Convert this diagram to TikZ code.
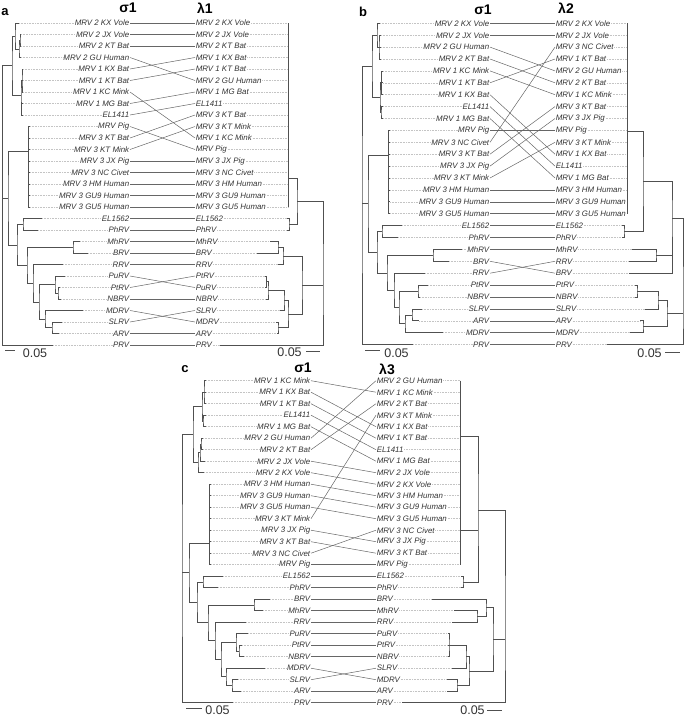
\documentclass[tikz,border=0pt]{standalone}
\usepackage{fontspec}
\setmainfont{Liberation Sans}
\definecolor{branchgray}{HTML}{505050}
\definecolor{leadgray}{HTML}{C4C4C4}
\definecolor{labgray}{HTML}{333333}
\tikzset{branch/.style={draw=branchgray,line width=0.7pt},
 leader/.style={draw=leadgray,line width=0.6pt,densely dotted},
 link/.style={draw=gray!80!black,line width=0.5pt},
 leaf/.style={font=\fontsize{7.9}{8}\selectfont\itshape,text=labgray,inner sep=0.6pt},
 lleaf/.style={leaf,anchor=east},
 rleaf/.style={leaf,anchor=west},
 ttl/.style={font=\fontsize{14}{14}\selectfont\bfseries,inner sep=0pt},
 panel/.style={font=\fontsize{13}{13}\selectfont\bfseries,inner sep=0pt},
 scl/.style={font=\fontsize{12.5}{12.5}\selectfont,text=labgray,inner sep=0pt},
 }

\begin{document}
\begin{tikzpicture}[x=1pt,y=-1pt]
\useasboundingbox (0,0) rectangle (685,716);

% panel a
\node[panel] (pa) at (5,12) {a};
\node[ttl] (aSig) at (128,8) {σ1};
\node[ttl] (aLam) at (205,8) {λ1};
\begin{scope}[yshift=-11.5pt,y=-11.5pt]
    \foreach \x/\t [count=\i] in {19/MRV 2 KX Vole, 21/MRV 2 JX Vole, 21/MRV 2 KT Bat, 21/MRV 2 GU Human, 23/MRV 1 KX Bat, 23/MRV 1 KT Bat, 23/MRV 1 KC Mink, 23/MRV 1 MG Bat, 23/EL1411, 30/MRV Pig, 30/MRV 3 KT Bat, 30/MRV 3 KT Mink, 30/MRV 3 JX Pig, 30/MRV 3 NC Civet, 30/MRV 3 HM Human, 30/MRV 3 GU9 Human, 30/MRV 3 GU5 Human, 42/EL1562, 38/PhRV, 80/MhRV, 88/BRV, 63/RRV, 65/PuRV, 60/PtRV, 61/NBRV, 83/MDRV, 62/SLRV, 59/ARV, 53/PRV} {
        \node[lleaf] (aL\i) at (130,\i) {\t};
        \draw[leader] (\x,\i) -- (aL\i.west);
    }
    \foreach \x/\t [count=\i] in {288/MRV 2 KX Vole, 288/MRV 2 JX Vole, 288/MRV 2 KT Bat, 288/MRV 1 KX Bat, 288/MRV 1 KT Bat, 288/MRV 2 GU Human, 288/MRV 1 MG Bat, 288/EL1411, 288/MRV 3 KT Bat, 288/MRV 3 KT Mink, 288/MRV 1 KC Mink, 288/MRV Pig, 288/MRV 3 JX Pig, 288/MRV 3 NC Civet, 288/MRV 3 HM Human, 288/MRV 3 GU9 Human, 288/MRV 3 GU5 Human, 287/EL1562, 287/PhRV, 270/MhRV, 257/BRV, 278/RRV, 265/PtRV, 265/PuRV, 266/NBRV, 280/SLRV, 276/MDRV, 277/ARV, 220/PRV} {
        \node[rleaf] (aR\i) at (195,\i) {\t};
        \draw[leader] (aR\i.east) -- (\x,\i);
    }
    \foreach \i/\j in {1/1,2/2,3/3,4/6,5/4,6/5,7/11,8/7,9/8,10/12,11/9,12/10,13/13,14/14,15/15,16/16,17/17,18/18,19/19,20/20,21/21,22/22,23/24,24/23,25/25,26/27,27/26,28/28,29/29}
        \draw[link] (aL\i.east) -- (aR\j.west);
    % sigma1 tree
    \draw[branch] (21,2) -| (20,2.5) |- (21,3);
    \draw[branch] (20,2.5) -| (19,3.25) |- (21,4);
    \draw[branch] (19,1) -| (15,2.125) |- (19,3.25);
    \draw[branch] (23,5) -| (22,6) |- (23,7);
    \draw[branch] (22,6) -- (23,6);
    \draw[branch] (23,8) -| (21.5,8.5) |- (23,9);
    \draw[branch] (22,6) -| (21,7.25) |- (21.5,8.5);
    \draw[branch] (15,2.125) -| (12,4.69) |- (21,7.25);
    \draw[branch] (28,10) -- (28,17);
    \foreach \r in {10,...,17} \draw[branch] (28,\r) -- (30,\r);
    \draw[branch] (28,12.2) -| (8,16.25) |- (17,20.3);
    \draw[branch] (23,18.5) -| (17,20.3) |- (27,22.05);
    \draw[branch] (42,18) -| (23,18.5) |- (38,19);
    \draw[branch] (73,20.5) -| (27,22.05) |- (33,23.6);
    \draw[branch] (80,20) -| (73,20.5) |- (88,21);
    \draw[branch] (63,22) -| (33,23.6) |- (39,25.25);
    \draw[branch] (55,23.75) -| (39,25.25) |- (45,26.75);
    \draw[branch] (65,23) -| (55,23.75) |- (58,24.5);
    \draw[branch] (60,24) -| (58,24.5) |- (61,25);
    \draw[branch] (83,26) -| (45,26.75) |- (52,27.5);
    \draw[branch] (62,27) -| (52,27.5) |- (59,28);
    \draw[branch] (12,4.69) -| (2.7,16.25) |- (53,29);
    \draw[branch] (2.7,16.25) -- (8,16.25);
    % lambda1 tree
    \draw[branch] (288,1) -- (288,17);
    \draw[branch] (288,14.5) -| (297,16.5) |- (289,18.5);
    \draw[branch] (287,18) -| (289,18.5) |- (287,19);
    \draw[branch] (297,16.5) -| (323,23.8) |- (220,29);
    \draw[branch] (323,23.8) -- (302,23.8);
    \draw[branch] (283,21.25) -| (302,23.8) |- (288,26.3);
    \draw[branch] (278,20.5) -| (283,21.25) |- (278,22);
    \draw[branch] (270,20) -| (278,20.5) |- (257,21);
    \draw[branch] (284,25.1) -| (288,26.3) |- (278,27.5);
    \draw[branch] (268,24.25) -| (284,25.1) |- (280,26);
    \draw[branch] (266.5,23.5) -| (268,24.25) |- (266,25);
    \draw[branch] (265,23) -| (266.5,23.5) |- (265,24);
    \draw[branch] (276,27) -| (278,27.5) |- (277,28);
\end{scope}
\draw[branch] (5,350) -- (15,350);
\node[scl] (aS1) at (35,353) {0.05};
\draw[branch] (306,351) -- (320,351);
\node[scl] (aS2) at (289.5,352.5) {0.05};

% panel b
\node[panel] (pb) at (363,12) {b};
\node[ttl] (bSig) at (483,10) {σ1};
\node[ttl] (bLam) at (566,8) {λ2};
\begin{scope}[yshift=-11.4pt,y=-11.9pt]
    \foreach \x/\t [count=\i] in {380/MRV 2 KX Vole, 381/MRV 2 JX Vole, 381/MRV 2 GU Human, 381/MRV 2 KT Bat, 383/MRV 1 KC Mink, 383/MRV 1 KT Bat, 383/MRV 1 KX Bat, 383/EL1411, 383/MRV 1 MG Bat, 390/MRV Pig, 390/MRV 3 NC Civet, 390/MRV 3 KT Bat, 390/MRV 3 JX Pig, 390/MRV 3 KT Mink, 390/MRV 3 HM Human, 390/MRV 3 GU9 Human, 390/MRV 3 GU5 Human, 402/EL1562, 398/PhRV, 462/MhRV, 449/BRV, 425/RRV, 428/PtRV, 420/NBRV, 422/SLRV, 419/ARV, 443/MDRV, 413/PRV} {
        \node[lleaf] (bL\i) at (490,\i) {\t};
        \draw[leader] (\x,\i) -- (bL\i.west);
    }
    \foreach \x/\t [count=\i] in {627/MRV 2 KX Vole, 627/MRV 2 JX Vole, 627/MRV 3 NC Civet, 627/MRV 1 KT Bat, 627/MRV 2 GU Human, 627/MRV 2 KT Bat, 627/MRV 1 KC Mink, 627/MRV 3 KT Bat, 627/MRV 3 JX Pig, 627/MRV Pig, 627/MRV 3 KT Mink, 627/MRV 1 KX Bat, 627/EL1411, 627/MRV 1 MG Bat, 627/MRV 3 HM Human, 627/MRV 3 GU9 Human, 627/MRV 3 GU5 Human, 622/EL1562, 622/PhRV, 632/MhRV, 629/RRV, 629/BRV, 635/PtRV, 635/NBRV, 645/SLRV, 640/ARV, 630/MDRV, 607/PRV} {
        \node[rleaf] (bR\i) at (555,\i) {\t};
        \draw[leader] (bR\i.east) -- (\x,\i);
    }
    \foreach \i/\j in {1/1,2/2,3/5,4/6,5/7,6/4,7/12,8/13,9/14,10/10,11/3,12/8,13/9,14/11,15/15,16/16,17/17,18/18,19/19,20/20,21/22,22/21,23/23,24/24,25/25,26/26,27/27,28/28}
        \draw[link] (bL\i.east) -- (bR\j.west);
    % sigma1 tree
    \draw[branch] (381,2) -| (379,3) |- (381,4);
    \draw[branch] (379,3) -- (381,3);
    \draw[branch] (380,1) -| (377,2) |- (379,3);
    \draw[branch] (383,5) -| (381.7,6) |- (383,7);
    \draw[branch] (381.7,6) -- (383,6);
    \draw[branch] (383,8) -| (381,8.5) |- (383,9);
    \draw[branch] (381.7,6) -| (380,7.25) |- (381,8.5);
    \draw[branch] (377,2) -| (372,4.6) |- (380,7.25);
    \draw[branch] (388,10) -- (388,17);
    \foreach \r in {10,...,17} \draw[branch] (388,\r) -- (390,\r);
    \draw[branch] (388,12.1) -| (368,16.17) |- (377,20.24);
    \draw[branch] (382,18.5) -| (377,20.24) |- (387,21.98);
    \draw[branch] (402,18) -| (382,18.5) |- (398,19);
    \draw[branch] (433,20.5) -| (387,21.98) |- (394,23.45);
    \draw[branch] (462,20) -| (433,20.5) |- (449,21);
    \draw[branch] (425,22) -| (394,23.45) |- (399,24.9);
    \draw[branch] (418,23.5) -| (399,24.9) |- (405,26.25);
    \draw[branch] (428,23) -| (418,23.5) |- (420,24);
    \draw[branch] (412,25.5) -| (405,26.25) |- (443,27);
    \draw[branch] (422,25) -| (412,25.5) |- (419,26);
    \draw[branch] (372,4.6) -| (362,16.17) |- (413,28);
    \draw[branch] (362,16.17) -- (368,16.17);
    % lambda2 tree
    \draw[branch] (627,1) -- (627,17);
    \draw[branch] (627,10.1) -| (643,14.3) |- (624,18.5);
    \draw[branch] (622,18) -| (624,18.5) |- (622,19);
    \draw[branch] (643,14.3) -| (672,17.4) |- (656,20.5);
    \draw[branch] (672,20.5) |- (629,22);
    \draw[branch] (632,20) -| (656,20.5) |- (629,21);
    \draw[branch] (672,17.4) -| (683,25.4) |- (607,28);
    \draw[branch] (683,25.4) -- (667,25.4);
    \draw[branch] (658,24.25) -| (667,25.4) |- (643,26.5);
    \draw[branch] (637,23.5) -| (658,24.25) |- (645,25);
    \draw[branch] (635,23) -| (637,23.5) |- (635,24);
    \draw[branch] (640,26) -| (643,26.5) |- (630,27);
\end{scope}
\draw[branch] (365,350) -- (380,350);
\node[scl] (bS1) at (396.5,353) {0.05};
\draw[branch] (665,352.7) -- (680,352.7);
\node[scl] (bS2) at (649.5,352.7) {0.05};

% panel c
\node[panel] (pc) at (185,369) {c};
\node[ttl] (cSig) at (303,368) {σ1};
\node[ttl] (cLam) at (387,369) {λ3};
\begin{scope}[yshift=-369.2pt,y=-11.5pt]
    \foreach \x/\t [count=\i] in {206/MRV 1 KC Mink, 206/MRV 1 KX Bat, 206/MRV 1 KT Bat, 206/EL1411, 206/MRV 1 MG Bat, 203/MRV 2 GU Human, 203/MRV 2 KT Bat, 205/MRV 2 JX Vole, 204/MRV 2 KX Vole, 211/MRV 3 HM Human, 211/MRV 3 GU9 Human, 211/MRV 3 GU5 Human, 211/MRV 3 KT Mink, 211/MRV 3 JX Pig, 211/MRV 3 KT Bat, 211/MRV 3 NC Civet, 211/MRV Pig, 223/EL1562, 218/PhRV, 270/BRV, 263/MhRV, 246/RRV, 248/PuRV, 242/PtRV, 244/NBRV, 265/MDRV, 238/SLRV, 241/ARV, 233/PRV} {
        \node[lleaf] (cL\i) at (311,\i) {\t};
        \draw[leader] (\x,\i) -- (cL\i.west);
    }
    \foreach \x/\t [count=\i] in {460/MRV 2 GU Human, 460/MRV 1 KC Mink, 460/MRV 2 KT Bat, 460/MRV 3 KT Mink, 460/MRV 1 KX Bat, 460/MRV 1 KT Bat, 460/EL1411, 460/MRV 1 MG Bat, 460/MRV 2 JX Vole, 460/MRV 2 KX Vole, 460/MRV 3 HM Human, 460/MRV 3 GU9 Human, 460/MRV 3 GU5 Human, 460/MRV 3 NC Civet, 460/MRV 3 JX Pig, 460/MRV 3 KT Bat, 460/MRV Pig, 461/EL1562, 461/PhRV, 432/BRV, 454/MhRV, 452/RRV, 448/PuRV, 448/PtRV, 448/NBRV, 452/SLRV, 447/MDRV, 447/ARV, 402/PRV} {
        \node[rleaf] (cR\i) at (376,\i) {\t};
        \draw[leader] (cR\i.east) -- (\x,\i);
    }
    \foreach \i/\j in {1/2,2/5,3/6,4/7,5/8,6/1,7/3,8/9,9/10,10/11,11/12,12/13,13/4,14/15,15/16,16/14,17/17,18/18,19/19,20/20,21/21,22/22,23/23,24/24,25/25,26/27,27/26,28/28,29/29}
        \draw[link] (cL\i.east) -- (cR\j.west);
    % sigma1 tree
    \draw[branch] (206,1) -| (204,2) |- (206,3);
    \draw[branch] (204,2) -- (206,2);
    \draw[branch] (206,4) -| (203,4.5) |- (206,5);
    \draw[branch] (204,2) -| (202,3.25) |- (203,4.5);
    \draw[branch] (203,6) -| (201,6.5) |- (203,7);
    \draw[branch] (201,6.5) -| (200,7.25) |- (205,8);
    \draw[branch] (200,7.25) -| (198,8.1) |- (204,9);
    \draw[branch] (202,3.25) -| (193,5.7) |- (198,8.1);
    \draw[branch] (209,10) -- (209,17);
    \foreach \r in {10,...,17} \draw[branch] (209,\r) -- (211,\r);
    \draw[branch] (209,15.1) -| (189,17.7) |- (197,20.3);
    \draw[branch] (203,18.5) -| (197,20.3) |- (208,22.05);
    \draw[branch] (223,18) -| (203,18.5) |- (218,19);
    \draw[branch] (254,20.5) -| (208,22.05) |- (215,23.6);
    \draw[branch] (270,20) -| (254,20.5) |- (263,21);
    \draw[branch] (246,22) -| (215,23.6) |- (221,25.25);
    \draw[branch] (236,23.75) -| (221,25.25) |- (226,26.75);
    \draw[branch] (248,23) -| (236,23.75) |- (239,24.5);
    \draw[branch] (242,24) -| (239,24.5) |- (244,25);
    \draw[branch] (265,26) -| (226,26.75) |- (232,27.5);
    \draw[branch] (238,27) -| (232,27.5) |- (241,28);
    \draw[branch] (193,5.7) -| (182,17.7) |- (233,29);
    \draw[branch] (182,17.7) -- (189,17.7);
    % lambda3 tree
    \draw[branch] (460,1) -- (460,17);
    \draw[branch] (460,5.86) -| (478,12.3) |- (463,18.5);
    \draw[branch] (460,14) -- (478,14);
    \draw[branch] (461,18) -| (463,18.5) |- (461,19);
    \draw[branch] (478,12.3) -| (505,23.5) |- (402,29);
    \draw[branch] (505,23.5) -- (493,23.5);
    \draw[branch] (486,20.75) -| (493,23.5) |- (469,26.25);
    \draw[branch] (432,20) -| (486,20.75) |- (477,21.5);
    \draw[branch] (454,21) -| (477,21.5) |- (452,22);
    \draw[branch] (448,23) -| (449,24) |- (448,25);
    \draw[branch] (449,24) -- (448,24);
    \draw[branch] (449,24) -| (466,25) |- (452,26);
    \draw[branch] (466,25) -| (469,26.25) |- (457,27.5);
    \draw[branch] (447,27) -| (457,27.5) |- (447,28);
\end{scope}
\draw[branch] (186,708) -- (202,708);
\node[scl] (cS1) at (217.5,710) {0.05};
\draw[branch] (487,710) -- (502,710);
\node[scl] (cS2) at (472.5,710) {0.05};
\end{tikzpicture}
\end{document}
